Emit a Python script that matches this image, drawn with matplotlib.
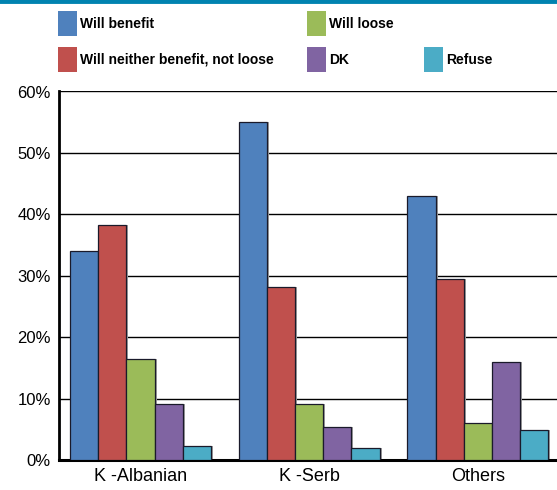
import matplotlib
matplotlib.use("Agg")
import matplotlib.pyplot as plt
from matplotlib.patches import Rectangle
from matplotlib.lines import Line2D
import numpy as np

plt.rcParams['font.family'] = ['DejaVu Sans Condensed', 'Liberation Sans Narrow', 'Liberation Sans', 'DejaVu Sans']

categories = ["K -Albanian", "K -Serb", "Others"]
series = ["Will benefit", "Will neither benefit, not loose", "Will loose", "DK", "Refuse"]
colors = ["#4F81BD", "#C0504D", "#9BBB59", "#8064A2", "#4BACC6"]
will_benefit = [34.0, 55.0, 43.0]
will_neither = [38.3, 28.1, 29.5]
will_loose = [16.4, 9.1, 6.1]
dk = [9.1, 5.4, 16.0]
refuse = [2.3, 2.0, 4.9]
values = [will_benefit, will_neither, will_loose, dk, refuse]
yticks = [0, 10, 20, 30, 40, 50, 60]

fig = plt.figure(figsize=(5.57, 4.90), dpi=100)
ax = fig.add_axes([59 / 557, 30 / 490, 1 - 59 / 557, 368.5 / 490])

x = np.arange(len(categories))
w = 0.167
for i, (vals, c) in enumerate(zip(values, colors)):
    pos = x + (i - 2) * w
    # soft grey shadow on the right side
    ax.bar(pos + 0.012, vals, width=w, color="#a0a0a0", zorder=2)
    ax.bar(pos, vals, width=w, color=c, edgecolor="#1a1a2a", linewidth=0.9, zorder=3)

ax.set_xlim(-0.483, 2.469)
ax.set_ylim(0, 60)
ax.set_yticks(yticks)
ax.set_yticklabels([f"{t}%" for t in yticks], fontsize=12)
ax.set_xticks(x)
ax.set_xticklabels(categories, fontsize=13)
ax.tick_params(axis="both", length=0, pad=6)
ax.yaxis.grid(True, color="black", linewidth=1.0, zorder=0)
ax.set_axisbelow(True)
for s in ["top", "right"]:
    ax.spines[s].set_visible(False)
ax.spines["left"].set_linewidth(2)
ax.spines["bottom"].set_linewidth(2.2)

# top band
fig.add_artist(Line2D([0, 1], [1 - 1.5 / 490, 1 - 1.5 / 490], color="#0083B0", linewidth=3.5))

# legend
entries = [(0, 58, 24), (2, 307, 24), (1, 58, 60), (3, 307, 60), (4, 424, 60)]
for idx, px, py in entries:
    fig.add_artist(Rectangle((px / 557, 1 - (py + 12) / 490), 19 / 557, 25 / 490,
                             facecolor=colors[idx], edgecolor="none",
                             transform=fig.transFigure))
    fig.text((px + 22) / 557, 1 - py / 490, series[idx], fontsize=10,
             fontweight="bold", va="center", ha="left")

fig.savefig("out.png", dpi=100)
